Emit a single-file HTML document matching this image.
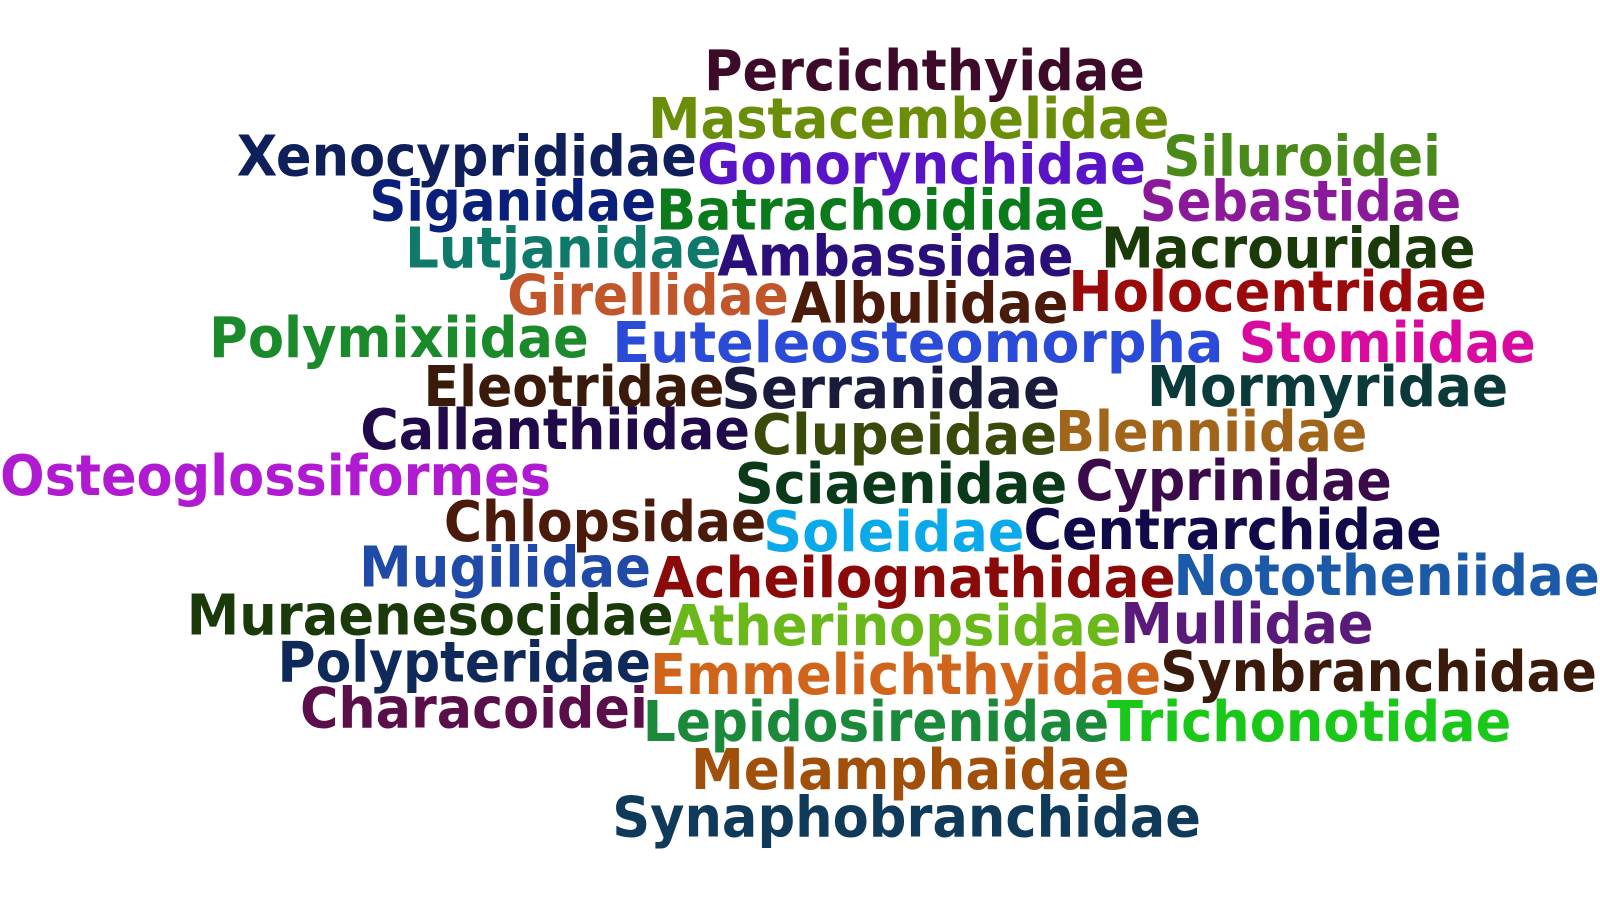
<!DOCTYPE html>
<html><head><meta charset="utf-8"><style>
html,body{margin:0;padding:0;background:#fff;width:1600px;height:900px;overflow:hidden}
svg text{font-family:"DejaVu Sans","Liberation Sans",sans-serif;font-weight:bold;font-size:55px}
</style></head><body>
<svg width="1600" height="900" viewBox="0 0 1568 882" preserveAspectRatio="none" xmlns="http://www.w3.org/2000/svg">
<rect width="1568" height="882" fill="#fff"/>
<text x="690" y="88" textLength="432" lengthAdjust="spacingAndGlyphs" fill="#3d0a2a">Percichthyidae</text>
<text x="635" y="135" textLength="511" lengthAdjust="spacingAndGlyphs" fill="#6b8e0a">Mastacembelidae</text>
<text x="232" y="172" textLength="451" lengthAdjust="spacingAndGlyphs" fill="#0f1f5a">Xenocyprididae</text>
<text x="683" y="180" textLength="440" lengthAdjust="spacingAndGlyphs" fill="#5a14c8">Gonorynchidae</text>
<text x="1140" y="172" textLength="272" lengthAdjust="spacingAndGlyphs" fill="#4a8a1a">Siluroidei</text>
<text x="362" y="216" textLength="281" lengthAdjust="spacingAndGlyphs" fill="#0a1f7a">Siganidae</text>
<text x="1117" y="216" textLength="315" lengthAdjust="spacingAndGlyphs" fill="#8a1a9a">Sebastidae</text>
<text x="643" y="225" textLength="440" lengthAdjust="spacingAndGlyphs" fill="#0a7a1a">Batrachoididae</text>
<text x="397" y="262" textLength="310" lengthAdjust="spacingAndGlyphs" fill="#0f7a6a">Lutjanidae</text>
<text x="1079" y="262" textLength="367" lengthAdjust="spacingAndGlyphs" fill="#1a3a0a">Macrouridae</text>
<text x="703" y="270" textLength="349" lengthAdjust="spacingAndGlyphs" fill="#2a0f7a">Ambassidae</text>
<text x="497" y="308" textLength="276" lengthAdjust="spacingAndGlyphs" fill="#c0562a">Girellidae</text>
<text x="1047" y="305" textLength="410" lengthAdjust="spacingAndGlyphs" fill="#9a0a0a">Holocentridae</text>
<text x="775" y="316" textLength="272" lengthAdjust="spacingAndGlyphs" fill="#4a1a0a">Albulidae</text>
<text x="205" y="350" textLength="372" lengthAdjust="spacingAndGlyphs" fill="#1a8a2a">Polymixiidae</text>
<text x="600" y="355" textLength="599" lengthAdjust="spacingAndGlyphs" fill="#2a4ad8">Euteleosteomorpha</text>
<text x="1214" y="355" textLength="291" lengthAdjust="spacingAndGlyphs" fill="#d80aa0">Stomiidae</text>
<text x="415" y="398" textLength="295" lengthAdjust="spacingAndGlyphs" fill="#3a1a0a">Eleotridae</text>
<text x="707" y="400" textLength="332" lengthAdjust="spacingAndGlyphs" fill="#1a1a3a">Serranidae</text>
<text x="1124" y="398" textLength="354" lengthAdjust="spacingAndGlyphs" fill="#0a3a3a">Mormyridae</text>
<text x="353" y="440" textLength="382" lengthAdjust="spacingAndGlyphs" fill="#200a4a">Callanthiidae</text>
<text x="737" y="445" textLength="299" lengthAdjust="spacingAndGlyphs" fill="#3a4a0a">Clupeidae</text>
<text x="1034" y="442" textLength="306" lengthAdjust="spacingAndGlyphs" fill="#a0641a">Blenniidae</text>
<text x="0" y="485" textLength="540" lengthAdjust="spacingAndGlyphs" fill="#b01ad0">Osteoglossiformes</text>
<text x="720" y="493" textLength="326" lengthAdjust="spacingAndGlyphs" fill="#0a3a1a">Sciaenidae</text>
<text x="1054" y="490" textLength="310" lengthAdjust="spacingAndGlyphs" fill="#3a0a4a">Cyprinidae</text>
<text x="435" y="530" textLength="316" lengthAdjust="spacingAndGlyphs" fill="#4a1a0a">Chlopsidae</text>
<text x="748" y="540" textLength="256" lengthAdjust="spacingAndGlyphs" fill="#0aaaea">Soleidae</text>
<text x="1003" y="538" textLength="410" lengthAdjust="spacingAndGlyphs" fill="#100a4a">Centrarchidae</text>
<text x="352" y="575" textLength="286" lengthAdjust="spacingAndGlyphs" fill="#1f4aa8">Mugilidae</text>
<text x="640" y="585" textLength="512" lengthAdjust="spacingAndGlyphs" fill="#8a0a0a">Acheilognathidae</text>
<text x="1150" y="583" textLength="418" lengthAdjust="spacingAndGlyphs" fill="#1a5aa8">Nototheniidae</text>
<text x="183" y="622" textLength="477" lengthAdjust="spacingAndGlyphs" fill="#1a3a0a">Muraenesocidae</text>
<text x="655" y="632" textLength="444" lengthAdjust="spacingAndGlyphs" fill="#6ab81a">Atherinopsidae</text>
<text x="1098" y="630" textLength="248" lengthAdjust="spacingAndGlyphs" fill="#5a1a7a">Mullidae</text>
<text x="272" y="668" textLength="366" lengthAdjust="spacingAndGlyphs" fill="#0f2a5a">Polypteridae</text>
<text x="637" y="680" textLength="501" lengthAdjust="spacingAndGlyphs" fill="#d0641a">Emmelichthyidae</text>
<text x="1137" y="677" textLength="428" lengthAdjust="spacingAndGlyphs" fill="#3a1a0a">Synbranchidae</text>
<text x="294" y="713" textLength="341" lengthAdjust="spacingAndGlyphs" fill="#5a0f4a">Characoidei</text>
<text x="630" y="726" textLength="457" lengthAdjust="spacingAndGlyphs" fill="#1a8a3a">Lepidosirenidae</text>
<text x="1085" y="726" textLength="396" lengthAdjust="spacingAndGlyphs" fill="#1ac81a">Trichonotidae</text>
<text x="677" y="773" textLength="430" lengthAdjust="spacingAndGlyphs" fill="#a0500a">Melamphaidae</text>
<text x="600" y="820" textLength="577" lengthAdjust="spacingAndGlyphs" fill="#0f3a5a">Synaphobranchidae</text>
</svg>
</body></html>
